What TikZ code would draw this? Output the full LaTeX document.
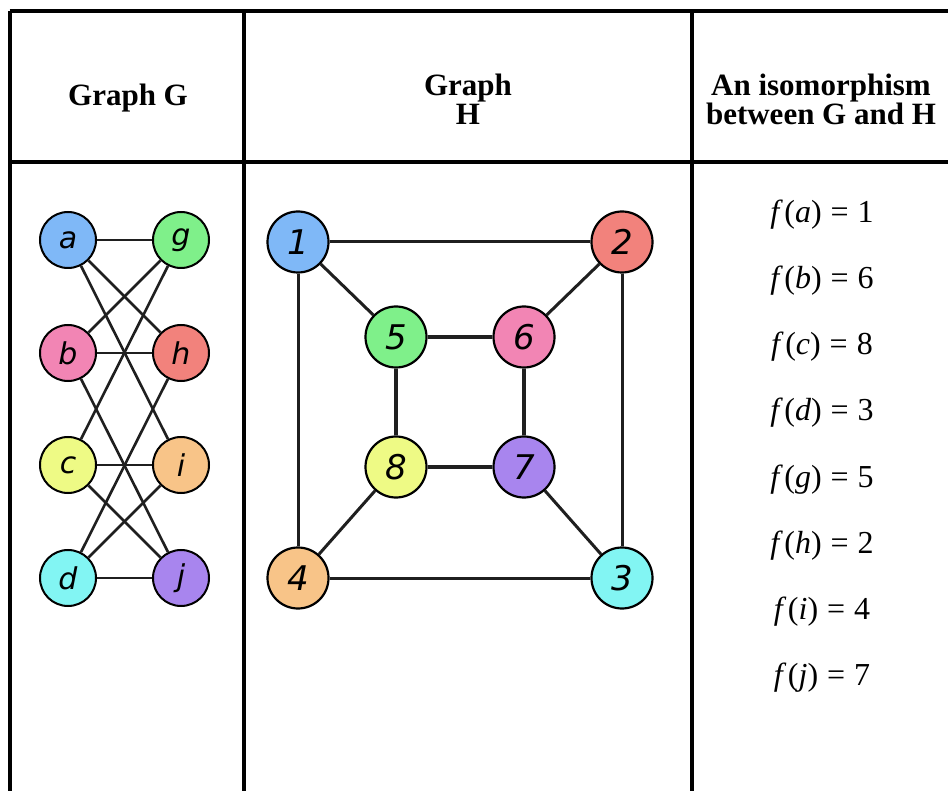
\documentclass[tikz,border=0pt]{standalone}
\usepackage{fontspec}
\setmainfont{Liberation Serif}
\newfontfamily\lblfont{DejaVu Sans}
\newcommand\fmapeq[2]{\textit{f}\kern1.5pt(\textit{#1})\hspace{0.28em}=\hspace{0.28em}#2}
\definecolor{cblue}{HTML}{7FB8F7}
\definecolor{cgreen}{HTML}{7FF08A}
\definecolor{cpink}{HTML}{F285B4}
\definecolor{cred}{HTML}{F2827C}
\definecolor{cyellow}{HTML}{EEFA85}
\definecolor{corange}{HTML}{F8C488}
\definecolor{ccyan}{HTML}{82F5F3}
\definecolor{cpurple}{HTML}{A885EE}
\tikzset{
  rule/.style={line width=4pt, black},
  gv/.style={circle, draw=black, line width=2pt, minimum size=56pt, inner sep=0pt,
    font=\lblfont\itshape\fontsize{30}{30}\selectfont},
  hv/.style={circle, draw=black, line width=2.2pt, minimum size=61pt, inner sep=0pt,
    font=\lblfont\itshape\fontsize{34}{34}\selectfont},
  gedge/.style={line width=2.6pt, draw=black!88},
  hedge/.style={line width=3pt, draw=black!88},
  hinner/.style={line width=4pt, draw=black!88},
  head/.style={align=center, inner sep=0pt, font=\bfseries\fontsize{31}{29}\selectfont},
  fmap/.style={inner sep=0pt, font=\fontsize{32}{32}\selectfont}
}
\begin{document}
\begin{tikzpicture}[x=1pt,y=-1pt]
\useasboundingbox (0,0) rectangle (948,791);
\fill[white] (0,0) rectangle (948,791);
% table rules
\coordinate (tl) at (9.5,11);
\coordinate (tr) at (948,11);
\coordinate (ml) at (9.5,162);
\coordinate (mr) at (948,162);
\coordinate (bl) at (9.5,791);
\coordinate (c1t) at (244,11);
\coordinate (c1b) at (244,791);
\coordinate (c2t) at (692,11);
\coordinate (c2b) at (692,791);
\draw[rule] (tl) -- (tr);
\draw[rule] (ml) -- (mr);
\draw[rule] (tl) -- (bl);
\draw[rule] (c1t) -- (c1b);
\draw[rule] (c2t) -- (c2b);
% headers
\node[head] (hG) at (128,98) {Graph G};
\node[head] (hH) at (468,99) {Graph\\H};
\node[head] (hI) at (821,99) {An isomorphism\\between G and H};
% graph G
\node[gv, fill=cblue]   (a) at (68,240) {a};
\node[gv, fill=cgreen]  (g) at (181,240) {g};
\node[gv, fill=cpink]   (b) at (68,353) {b};
\node[gv, fill=cred]    (h) at (181,353) {h};
\node[gv, fill=cyellow] (c) at (68,465) {c};
\node[gv, fill=corange] (i) at (181,465) {i};
\node[gv, fill=ccyan]   (d) at (68,578) {d};
\node[gv, fill=cpurple] (j) at (181,578) {j};
\foreach \u/\v in {a/g,a/h,a/i,b/g,b/h,b/j,c/g,c/i,c/j,d/h,d/i,d/j}
  \draw[gedge] (\u) -- (\v);
% graph H
\node[hv, fill=cblue]   (n1) at (298,242) {1};
\node[hv, fill=cred]    (n2) at (622,242) {2};
\node[hv, fill=ccyan]   (n3) at (622,578) {3};
\node[hv, fill=corange] (n4) at (298,578) {4};
\node[hv, fill=cgreen]  (n5) at (396,337) {5};
\node[hv, fill=cpink]   (n6) at (524,337) {6};
\node[hv, fill=cpurple] (n7) at (524,467) {7};
\node[hv, fill=cyellow] (n8) at (396,467) {8};
\foreach \u/\v in {n1/n2,n2/n3,n3/n4,n4/n1,n1/n5,n2/n6,n3/n7,n4/n8}
  \draw[hedge] (\u) -- (\v);
\foreach \u/\v in {n5/n6,n6/n7,n7/n8,n8/n5}
  \draw[hinner] (\u) -- (\v);
% isomorphism
\node[fmap] (fa) at (822,215) {\fmapeq{a}{1}};
\node[fmap] (fb) at (822,281) {\fmapeq{b}{6}};
\node[fmap] (fc) at (822,347) {\fmapeq{c}{8}};
\node[fmap] (fd) at (822,413) {\fmapeq{d}{3}};
\node[fmap] (fg) at (822,480) {\fmapeq{g}{5}};
\node[fmap] (fh) at (822,546) {\fmapeq{h}{2}};
\node[fmap] (fi) at (822,612) {\fmapeq{i}{4}};
\node[fmap] (fj) at (822,678) {\fmapeq{j}{7}};
\end{tikzpicture}
\end{document}
